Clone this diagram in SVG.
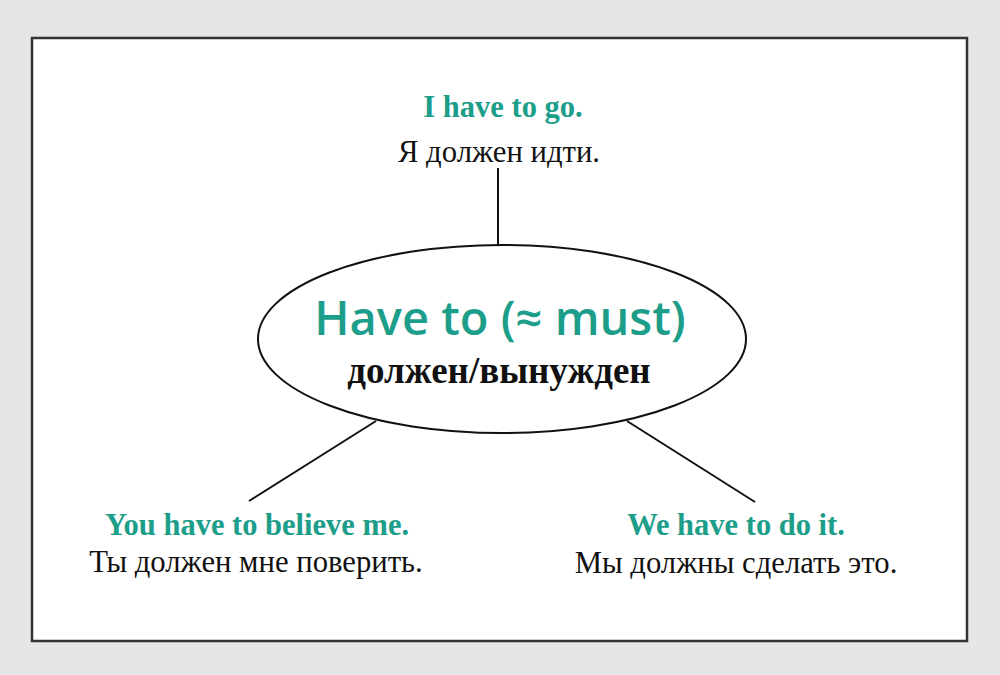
<svg xmlns="http://www.w3.org/2000/svg" width="1000" height="675" viewBox="0 0 1000 675">
<style>
.en{font-family:"Liberation Serif","Times New Roman",serif;font-weight:bold;fill:#1c9e8a;text-anchor:middle;font-size:30.5px}
.ru{font-family:"Liberation Serif","Times New Roman",serif;fill:#111;text-anchor:middle;font-size:30.7px}
.ln{stroke:#111;stroke-width:2;fill:none}
</style>
<rect x="0" y="0" width="1000" height="675" fill="#e6e6e7"/>
<rect x="32" y="38" width="935" height="603" fill="#fff" stroke="#333" stroke-width="2.5"/>
<g id="connectors">
<line class="ln" x1="498" y1="168" x2="498" y2="245"/>
<line class="ln" x1="376" y1="421" x2="249" y2="501"/>
<line class="ln" x1="627" y1="421" x2="755" y2="502"/>
</g>
<g id="center">
<ellipse cx="502" cy="339" rx="244" ry="94" fill="#fff" stroke="#111" stroke-width="2"/>
<text x="500" y="335" font-family="'Open Sans','Noto Sans',sans-serif" font-weight="600" font-size="47" fill="#1c9e8a" text-anchor="middle">Have to (≈ must)</text>
<text x="499" y="383" font-family="'Liberation Serif',serif" font-weight="bold" font-size="37" fill="#111" text-anchor="middle">должен/вынужден</text>
</g>
<g id="top">
<text class="en" x="503" y="117">I have to go.</text>
<text class="ru" x="499" y="162">Я должен идти.</text>
</g>
<g id="left">
<text class="en" x="257" y="535">You have to believe me.</text>
<text class="ru" x="256" y="572">Ты должен мне поверить.</text>
</g>
<g id="right">
<text class="en" x="736" y="535">We have to do it.</text>
<text class="ru" x="736" y="573">Мы должны сделать это.</text>
</g>
</svg>
